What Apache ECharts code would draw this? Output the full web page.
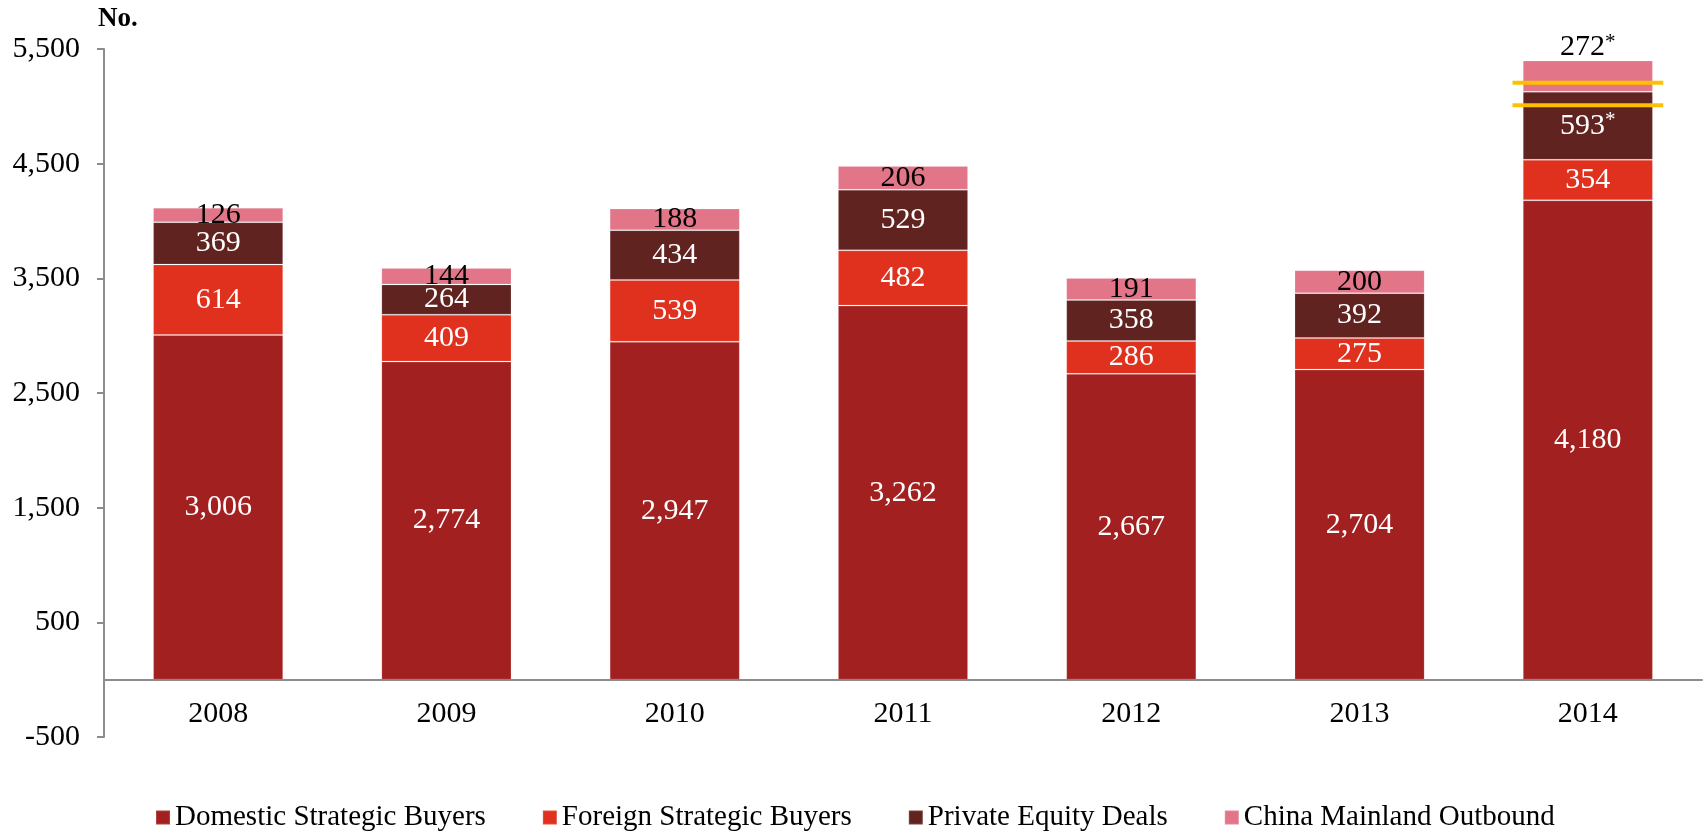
<!DOCTYPE html>
<html>
<head>
<meta charset="utf-8">
<script src="https://cdn.jsdelivr.net/npm/echarts@6/dist/echarts.min.js"></script>
<style>
  html, body { margin: 0; padding: 0; background: #fff; }
  #main { width: 1703px; height: 833px; }
</style>
</head>
<body>
<div id="main"></div>
<script>
var years = ['2008', '2009', '2010', '2011', '2012', '2013', '2014']
var domestic = [3006, 2774, 2947, 3262, 2667, 2704, 4180]
var foreign = [614, 409, 539, 482, 286, 275, 354]
var privateEquity = [369, 264, 434, 529, 358, 392, 593]
var outbound = [126, 144, 188, 206, 191, 200, 272]
// values marked with * in the source (2014 PE and outbound)
var starredYear = '2014'
// yellow break marks drawn across the 2014 bar
var breakMarks = [5205, 5010]

var font = 'Georgia, "Liberation Serif", "DejaVu Serif", serif'
var color = ['#a32020', '#e0301e', '#602320', '#e27588']

function fmt (v) {
  return Number(v).toLocaleString('en-US')
}

function buildData (values, starred, top) {
  return values.map(function (v, i) {
    if (!starred || years[i] !== starredYear) return v
    var item = { value: v, starred: true }
    if (top) item.label = { position: 'top', distance: 0, offset: [0, 3] }
    return item
  })
}

function labelFormatter (params) {
  if (params.data && params.data.starred) return '{n|' + fmt(params.value) + '}{s|*}'
  return '{n|' + fmt(params.value) + '}'
}

function barSeries (name, values, idx, labelColor, starred, top) {
  return {
    name: name,
    type: 'bar',
    stack: 'total',
    yAxisIndex: 0,
    barWidth: '57%',
    data: buildData(values, starred, top),
    itemStyle: {
      color: color[idx],
      borderColor: 'rgba(255,255,255,0.15)',
      borderWidth: 1
    },
    label: {
      show: true,
      position: 'inside',
      formatter: labelFormatter,
      rich: {
        n: { fontFamily: font, fontSize: 30, color: labelColor },
        s: { fontFamily: font, fontSize: 21, color: labelColor, verticalAlign: 'top', padding: [0, 0, 11, 0] }
      }
    },
    emphasis: { disabled: true }
  }
}

var myChart = echarts.init(document.getElementById('main'))
var option = {
  backgroundColor: '#ffffff',
  animation: false,
  title: {
    text: 'No.',
    left: 93,
    top: 1,
    textStyle: { fontFamily: font, fontSize: 27, fontWeight: 'bold', color: '#000' }
  },
  legend: {
    data: ['Domestic Strategic Buyers', 'Foreign Strategic Buyers', 'Private Equity Deals', 'China Mainland Outbound'],
    left: 155,
    top: 803,
    padding: 0,
    icon: 'rect',
    itemWidth: 14,
    itemHeight: 14,
    itemGap: 56,
    textStyle: { fontFamily: font, fontSize: 29, color: '#000' }
  },
  grid: {
    left: 104,
    right: 1,
    top: 49,
    bottom: 96,
    containLabel: false
  },
  xAxis: {
    type: 'category',
    data: years,
    axisLine: { onZero: true, onZeroAxisIndex: 0, lineStyle: { color: '#8c8c8c', width: 2 } },
    axisTick: { show: false },
    axisLabel: { fontFamily: font, fontSize: 30, color: '#000', margin: -38 }
  },
  yAxis: [
    {
      // data axis
      type: 'value',
      position: 'left',
      min: -500,
      max: 5500,
      axisLine: { show: false },
      axisTick: { show: false },
      axisLabel: { show: false },
      splitLine: { show: false }
    },
    {
      // display axis, ticks at -500, 500, ... 5,500
      type: 'value',
      position: 'left',
      min: 0,
      max: 6000,
      interval: 1000,
      axisLine: { show: true, lineStyle: { color: '#8c8c8c', width: 2 } },
      axisTick: { show: true, length: 7, lineStyle: { color: '#8c8c8c', width: 2 } },
      axisLabel: {
        fontFamily: font,
        fontSize: 30,
        color: '#000',
        margin: 24,
        formatter: function (v) { return fmt(v - 500) }
      },
      splitLine: { show: false }
    }
  ],
  series: [
    barSeries('Domestic Strategic Buyers', domestic, 0, '#fff', false, false),
    barSeries('Foreign Strategic Buyers', foreign, 1, '#fff', false, false),
    barSeries('Private Equity Deals', privateEquity, 2, '#fff', true, false),
    barSeries('China Mainland Outbound', outbound, 3, '#000', true, true),
    {
      type: 'custom',
      yAxisIndex: 0,
      z: 10,
      silent: true,
      data: breakMarks.map(function (v) { return [starredYear, v] }),
      renderItem: function (params, api) {
        var p = api.coord([api.value(0), api.value(1)])
        var band = api.size([1, 0])[0]
        var half = band * 0.33
        return {
          type: 'line',
          shape: { x1: p[0] - half, y1: p[1], x2: p[0] + half, y2: p[1] },
          style: { stroke: '#ffc000', lineWidth: 4 }
        }
      }
    }
  ]
}
myChart.setOption(option)
window.onresize = myChart.resize
</script>
</body>
</html>
